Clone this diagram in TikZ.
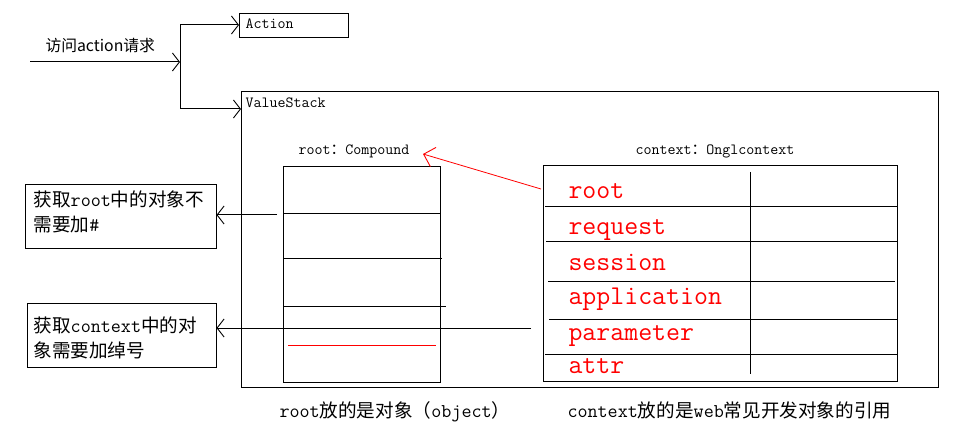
\documentclass[tikz,border=0pt]{standalone}
\usepackage{fontspec}
\setmainfont{Latin Modern Mono}[Scale=1.05]
\newfontfamily\cjk{Noto Sans CJK SC}
\usetikzlibrary{arrows.meta}
\newcommand{\zh}[1]{{\cjk #1}}
\begin{document}
\begin{tikzpicture}[x=1pt,y=-1pt,line width=1pt,
  box/.style={draw,line width=1pt,inner sep=0pt,outer sep=0pt},
  hand/.style={-{Straight Barb[length=7pt,width=18pt,line width=0.9pt]}},
  lbl/.style={inner sep=0pt,anchor=base west,font=\fontsize{14.8}{17}\selectfont},
  redtxt/.style={inner sep=0pt,anchor=base west,text=red,font=\fontsize{25.8}{28}\selectfont},
  note/.style={inner sep=0pt,anchor=base west,font=\fontsize{18.6}{22}\selectfont},
]
\useasboundingbox (0,0) rectangle (957,438);

% boxes
\node[box,minimum width=109pt,minimum height=24pt] (act) at (293.5,26) {};
\node[box,minimum width=697pt,minimum height=295pt] (vs) at (589.5,239.5) {};
\node[box,minimum width=157pt,minimum height=215pt] (cmp) at (361.5,274.5) {};
\node[box,minimum width=354pt,minimum height=215pt] (ctx) at (720,273.5) {};
\node[box,minimum width=191.5pt,minimum height=63pt] (b1) at (120.75,216.5) {};
\node[box,minimum width=189.5pt,minimum height=64pt] (b2) at (121.75,335) {};

% labels
\node[inner sep=0pt,anchor=base west,font=\cjk\fontsize{15.8}{18}\selectfont] (title) at (45,52) {访问action请求};
\node[lbl] (tAction) at (245,29) {Action};
\node[lbl] (tVS) at (245,108) {ValueStack};
\node[lbl] (tRoot) at (298,155) {root\zh{：}Compound};
\node[lbl] (tCtx) at (635,155) {context\zh{：}Onglcontext};

% compound rows
\draw (283,214) -- (440,214);
\draw (283,258) -- (442,258);
\draw (284,306) -- (446,306);
\draw[red,line width=0.6pt] (288,345) -- (436,345);

% context rows
\draw (545,206.7) -- (897,206.7);
\draw (546,241) -- (897,241);
\draw (548,281.7) -- (895,281.7);
\draw (549,319) -- (897,319);
\draw (545,354) -- (897,354);
\draw (750,172) -- (750,374);

\node[redtxt] (c1) at (568,199) {root};
\node[redtxt] (c2) at (568,234) {request};
\node[redtxt] (c3) at (568,270) {session};
\node[redtxt] (c4) at (568,304) {application};
\node[redtxt] (c5) at (568,340) {parameter};
\node[redtxt] (c6) at (568,373) {attr};

% notes
\node[note] (b1l1) at (33,206.7) {\zh{获取}root\zh{中的对象不}};
\node[note] (b1l2) at (33,232) {\zh{需要加}\#};
\node[note] (b2l1) at (33,332) {\zh{获取}context\zh{中的对}};
\node[note] (b2l2) at (33,357) {\zh{象需要加绰号}};
\node[note] (bot1) at (279,417.5) {root\zh{放的是对象（}object\zh{）}};
\node[note] (bot2) at (567,417.5) {context\zh{放的是}web\zh{常见开发对象的引用}};

% connectors
\coordinate (in) at (30,62);
\coordinate (split) at (180,62);
\coordinate (jt) at (180,25);
\coordinate (jb) at (180,109);
\draw[hand] (in) -- (split);
\draw (jt) -- (jb);
\draw[hand] (jt) -- (act.west |- jt);
\draw[hand] (jb) -- (vs.west |- jb);

\coordinate (a1) at (277,215);
\draw[hand] (a1) -- (b1.east |- a1);
\coordinate (a2) at (531,328);
\draw[hand] (a2) -- (b2.east |- a2);

\coordinate (r0) at (541,189);
\coordinate (rtip) at (423,154);
\draw[red,line width=0.8pt,-{Straight Barb[length=10pt,width=20pt,line width=0.9pt]}] (r0) -- (rtip);
\end{tikzpicture}
\end{document}
